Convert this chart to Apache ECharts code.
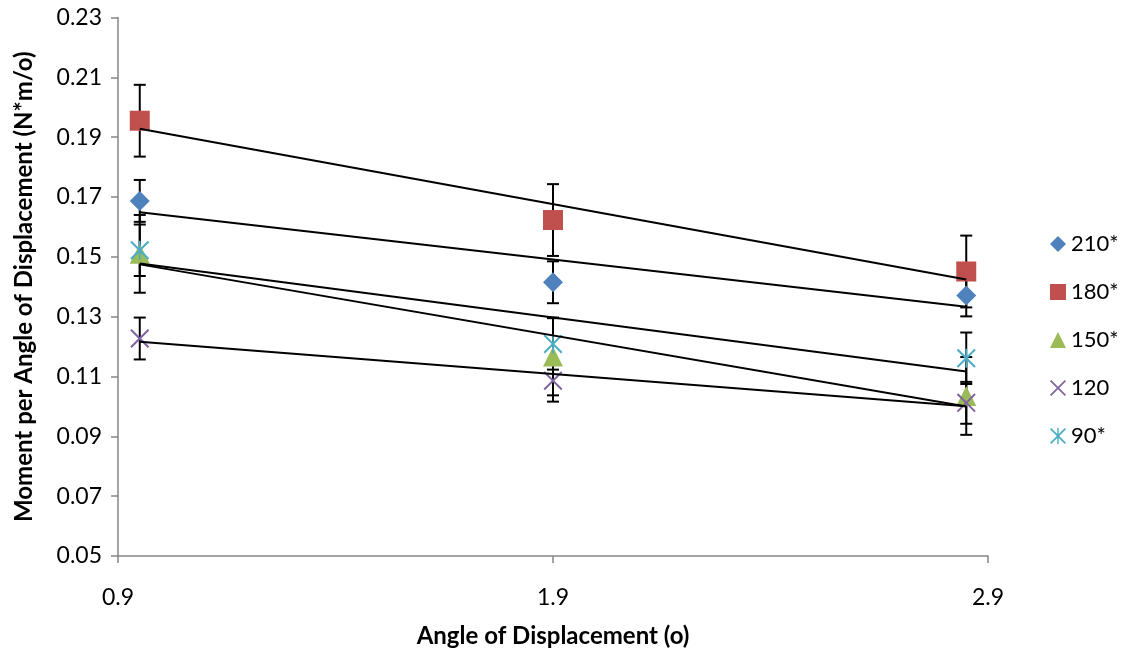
<!DOCTYPE html>
<html>
<head>
<meta charset="utf-8">
<script src="https://cdn.jsdelivr.net/npm/echarts@6/dist/echarts.min.js"></script>
<style>
  html, body { margin: 0; padding: 0; background: #fff; }
  #chart { width: 1129px; height: 653px; }
</style>
</head>
<body>
<div id="chart"></div>
<script>
// angle of displacement (x) for every series
const angles = [0.95, 1.9, 2.85]
const xTicks = [0.9, 1.9, 2.9]
const yTicks = [0.05, 0.07, 0.09, 0.11, 0.13, 0.15, 0.17, 0.19, 0.21, 0.23]

const names = ['210*', '180*', '150*', '120', '90*']
const v210 = [0.1687, 0.1415, 0.1371]
const v180 = [0.1955, 0.1623, 0.1451]
const v150 = [0.1510, 0.1167, 0.1035]
const v120 = [0.1227, 0.1086, 0.1012]
const v90 = [0.1522, 0.1209, 0.1161]

const e210 = [0.007, 0.007, 0.007]
const e180 = [0.012, 0.012, 0.012]
const e150 = [0.013, 0.013, 0.013]
const e120 = [0.007, 0.007, 0.007]
const e90 = [0.0086, 0.0086, 0.0086]

const colors = ['#4F81BD', '#C0504D', '#9BBB59', '#8064A2', '#4BACC6']

// x and asterisk markers
const crossPath = 'path://M0,1.5L1.5,0L20,18.5L18.5,20Z M18.5,0L20,1.5L1.5,20L0,18.5Z'
const starPath = 'path://M0,1.5L1.5,0L20,18.5L18.5,20Z M18.5,0L20,1.5L1.5,20L0,18.5Z M9.1,0L10.9,0L10.9,20L9.1,20Z'
const symbols = ['diamond', 'rect', 'triangle', crossPath, starPath]
const sizes = [20, 20, 20, 19, 19]

const values = [v210, v180, v150, v120, v90]
const errors = [e210, e180, e150, e120, e90]

const FONT = 'Lato'

// linear trendline (least squares), drawn between first and last x
function trend(xs, ys) {
  let n = xs.length
  let mx = xs.reduce((a, b) => a + b, 0) / n
  let my = ys.reduce((a, b) => a + b, 0) / n
  let sxy = 0
  let sxx = 0
  for (let i = 0; i < n; i++) {
    sxy += (xs[i] - mx) * (ys[i] - my)
    sxx += (xs[i] - mx) * (xs[i] - mx)
  }
  let k = sxy / sxx
  let b = my - k * mx
  return [[xs[0], k * xs[0] + b], [xs[n - 1], k * xs[n - 1] + b]]
}

function errorBars(api) {
  let x = api.value(0)
  let y = api.value(1)
  let e = api.value(2)
  let top = api.coord([x, y + e])
  let bot = api.coord([x, y - e])
  let cap = 6
  let style = { stroke: '#000', lineWidth: 2 }
  return {
    type: 'group',
    children: [
      { type: 'line', shape: { x1: top[0], y1: top[1], x2: bot[0], y2: bot[1] }, style: style },
      { type: 'line', shape: { x1: top[0] - cap, y1: top[1], x2: top[0] + cap, y2: top[1] }, style: style },
      { type: 'line', shape: { x1: bot[0] - cap, y1: bot[1], x2: bot[0] + cap, y2: bot[1] }, style: style },
    ],
  }
}

let series = []

for (let i = 0; i < names.length; i++) {
  series.push({
    name: 'err' + i,
    type: 'custom',
    renderItem: (params, api) => errorBars(api),
    data: angles.map((x, j) => [x, values[i][j], errors[i][j]]),
    z: 1,
    silent: true,
  })
}

for (let i = 0; i < names.length; i++) {
  series.push({
    name: names[i],
    type: 'scatter',
    symbol: symbols[i],
    symbolSize: sizes[i],
    itemStyle: { color: colors[i], opacity: 1 },
    data: angles.map((x, j) => [x, values[i][j]]),
    z: 2,
  })
}

for (let i = 0; i < names.length; i++) {
  series.push({
    name: 'trend' + i,
    type: 'line',
    data: trend(angles, values[i]),
    symbol: 'none',
    lineStyle: { color: '#000', width: 2 },
    z: 3,
    silent: true,
  })
}

let chart = echarts.init(document.getElementById('chart'))

chart.setOption({
  animation: false,
  backgroundColor: '#fff',
  textStyle: { fontFamily: FONT },
  grid: { left: 118, right: 141, top: 17.5, bottom: 91.5 },
  legend: {
    data: names,
    orient: 'vertical',
    left: 1045,
    top: 228,
    itemWidth: 16,
    itemHeight: 16,
    itemGap: 26,
    textStyle: { fontFamily: FONT, fontSize: 22, color: '#000', lineHeight: 22 },
  },
  xAxis: {
    type: 'value',
    min: 0.9,
    max: 2.9,
    name: 'Angle of Displacement (o)',
    nameLocation: 'middle',
    nameGap: 68,
    nameTextStyle: { fontFamily: FONT, fontSize: 24, fontWeight: 'bold', color: '#000' },
    splitLine: { show: false },
    axisLine: { lineStyle: { color: '#868686', width: 1.5 } },
    axisTick: { customValues: xTicks, length: 7, lineStyle: { color: '#868686', width: 1.5 } },
    axisLabel: {
      customValues: xTicks,
      formatter: v => v.toFixed(1),
      margin: 30,
      fontFamily: FONT,
      fontSize: 23,
      color: '#000',
    },
  },
  yAxis: {
    type: 'value',
    min: 0.05,
    max: 0.23,
    name: 'Moment per Angle of Displacement (N*m/o)',
    nameLocation: 'middle',
    nameGap: 82,
    nameTextStyle: { fontFamily: FONT, fontSize: 24, fontWeight: 'bold', color: '#000' },
    splitLine: { show: false },
    axisLine: { show: true, lineStyle: { color: '#868686', width: 1.5 } },
    axisTick: { show: true, customValues: yTicks, length: 7, lineStyle: { color: '#868686', width: 1.5 } },
    axisLabel: {
      customValues: yTicks,
      formatter: v => v.toFixed(2),
      margin: 16,
      fontFamily: FONT,
      fontSize: 23,
      color: '#000',
    },
  },
  series: series,
})
</script>
</body>
</html>
